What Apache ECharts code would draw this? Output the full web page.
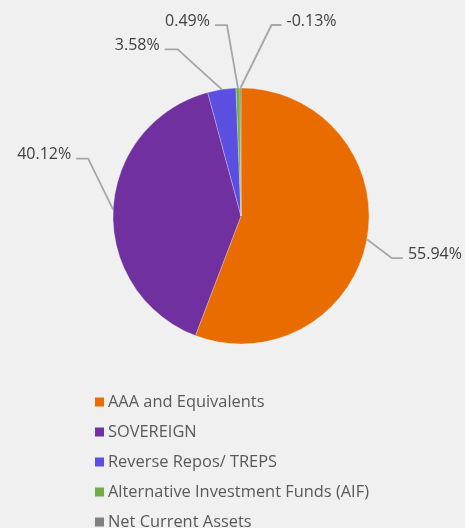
<!DOCTYPE html>
<html>
<head>
<meta charset="utf-8">
<script src="https://cdn.jsdelivr.net/npm/echarts@6/dist/echarts.min.js"></script>
<style>
html,body{margin:0;padding:0;background:#F0F0F0;}
#c{width:465px;height:528px;}
</style>
</head>
<body>
<div id="c"></div>
<script>
var categories = ['AAA and Equivalents','SOVEREIGN','Reverse Repos/ TREPS','Alternative Investment Funds (AIF)','Net Current Assets'];
var values = [55.94, 40.12, 3.58, 0.49, -0.13];
var colors = ['#E86C00','#7030A0','#5A4FE0','#70AD47','#808080'];

// label leader offsets: [dx to elbow, dy to elbow, horizontal length]
var leader = [[25,19,11],[-25,-51,-12],[-44,-40,-13],[-11,-63,-12],[31,-63,10]];

var chart = echarts.init(document.getElementById('c'));
chart.setOption({
  backgroundColor:'#F0F0F0',
  animation:false,
  legend:{
    orient:'vertical', left:88, top:387, height:200,
    padding:5,
    icon:'rect', itemWidth:11, itemHeight:11, itemGap:10,
    textStyle:{fontFamily:'Open Sans', fontSize:16.4, color:'#595959', lineHeight:20, padding:[0,0,0,-2]},
    data:categories
  },
  series:[{
    type:'pie',
    center:[241,216],
    radius:128,
    startAngle:90,
    clockwise:true,
    avoidLabelOverlap:false,
    itemStyle:{borderColor:'#F0F0F0', borderWidth:0.3},
    label:{show:true, position:'outside', fontFamily:'Open Sans', fontSize:16, color:'#404040',
      formatter:function(p){return values[p.dataIndex].toFixed(2)+'%';}},
    labelLine:{show:true, length:20, length2:10, lineStyle:{color:'#A6A6A6', width:1.8}},
    labelLayout:function(p){
      var o = leader[p.dataIndex];
      var p0 = p.labelLinePoints[0];
      var e = [p0[0]+o[0], p0[1]+o[1]];
      var t = [e[0]+o[2], e[1]];
      var right = o[2] > 0;
      return {
        x: t[0] + (right?5:-5),
        y: t[1] - 4,
        align: right?'left':'right',
        verticalAlign:'middle',
        labelLinePoints:[p0, e, t]
      };
    },
    data: categories.map(function(n,i){return {name:n, value:Math.abs(values[i]), itemStyle:{color:colors[i]}};})
  }]
});
</script>
</body>
</html>
